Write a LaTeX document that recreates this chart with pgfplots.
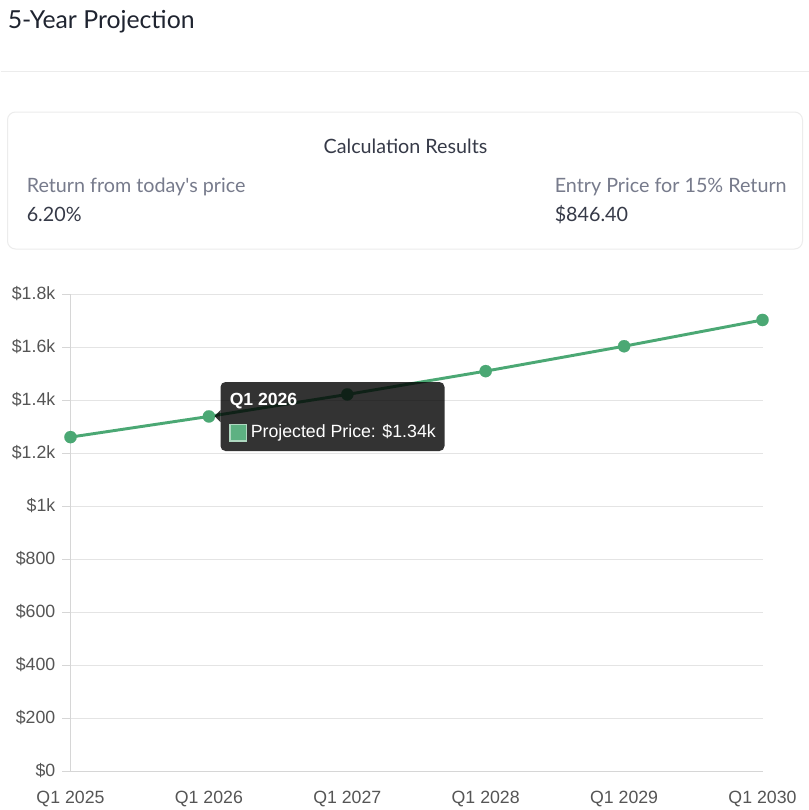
\documentclass[border=0pt]{standalone}
\usepackage{pgfplots}
\pgfplotsset{compat=1.18}
\usepackage{fontspec}
\setmainfont{Lato}
\newfontfamily\latoplain{Lato}
\newfontfamily\arial{Liberation Sans}
\definecolor{lineg}{HTML}{4BA874}
\definecolor{gridc}{HTML}{E4E4E4}
\definecolor{axisc}{HTML}{D6D6D6}
\definecolor{tickc}{HTML}{555555}
\definecolor{titlec}{HTML}{1F2430}
\definecolor{darkc}{HTML}{363A48}
\definecolor{grayc}{HTML}{777B8C}
\definecolor{cardb}{HTML}{ECECEC}
\begin{document}
\begin{tikzpicture}
\begin{scope}[x=0.75pt,y=-0.75pt]
\path[fill=white] (0,0) rectangle (808,810);
% header
\node[anchor=base west, inner sep=0pt, font=\fontsize{18.6}{22}\selectfont, text=titlec] at (7,28) {5-Year Projection};
\draw[cardb, line width=0.75pt] (0,71) -- (808,71);
% card
\draw[cardb, line width=0.75pt, rounded corners=6pt] (7,112) rectangle (802,249);
\node[anchor=base, inner sep=0pt, font=\fontsize{14.8}{17}\selectfont, text=darkc] at (405,153) {Calculation Results};
\node[anchor=base west, inner sep=0pt, font=\latoplain\fontsize{14.8}{17}\selectfont, text=grayc] at (26,192) {Return from today's price};
\node[anchor=base west, inner sep=0pt, font=\fontsize{14.8}{17}\selectfont, text=darkc] at (26,221) {6.20\%};
\node[anchor=base west, inner sep=0pt, font=\fontsize{14.8}{17}\selectfont, text=grayc] at (554,192) {Entry Price for 15\% Return};
\node[anchor=base west, inner sep=0pt, font=\fontsize{14.8}{17}\selectfont, text=darkc] at (554,221) {\$846.40};
\end{scope}
\begin{axis}[
  at={(52.5pt,-578.25pt)}, anchor=south west,
  scale only axis, width=519pt, height=357.75pt,
  xmin=0, xmax=5, ymin=0, ymax=1800,
  clip=false,
  axis x line=bottom, axis y line=left,
  axis line style={-, draw=axisc, line width=0.75pt},
  xtick={0,1,2,3,4,5},
  xticklabels={Q1 2025,Q1 2026,Q1 2027,Q1 2028,Q1 2029,Q1 2030},
  ytick={0,200,400,600,800,1000,1200,1400,1600,1800},
  yticklabels={\$0,\$200,\$400,\$600,\$800,\$1k,\$1.2k,\$1.4k,\$1.6k,\$1.8k},
  ymajorgrids, grid style={draw=gridc, line width=0.75pt},
  tick align=outside, major tick length=6pt,
  ytick style={draw=axisc, line width=0.75pt},
  xtick style={draw=none},
  tick label style={font=\arial\fontsize{13.3}{15}\selectfont, text=tickc},
  yticklabel style={anchor=east, inner sep=0pt, xshift=-5.25pt},
  xticklabel style={anchor=north, inner sep=0pt, yshift=-9pt},
]
\addplot[color=lineg, line width=2.2pt, mark=*, mark size=4.6pt, mark options={fill=lineg, draw=lineg, line width=0.1pt}]
  coordinates {(0,1260) (1,1338) (2,1421) (3,1509) (4,1603) (5,1702)};
\end{axis}
\begin{scope}[x=0.75pt,y=-0.75pt]
% tooltip
\fill[black, opacity=0.8, rounded corners=3.75pt] (220,382) rectangle (444,451);
\fill[black, opacity=0.8] (220,410) -- (214,416) -- (220,422) -- cycle;
\node[anchor=base west, inner sep=0pt, text=white, font=\arial\bfseries\fontsize{13.2}{15}\selectfont] at (229,405) {Q1 2026};
\draw[fill=lineg!90!white, draw=lineg!45!white, line width=1pt] (229.5,424.5) rectangle (246,441);
\node[anchor=base west, inner sep=0pt, text=white, font=\arial\fontsize{13.3}{15}\selectfont] at (250,437) {Projected Price: \$1.34k};
\end{scope}
\end{tikzpicture}
\end{document}
